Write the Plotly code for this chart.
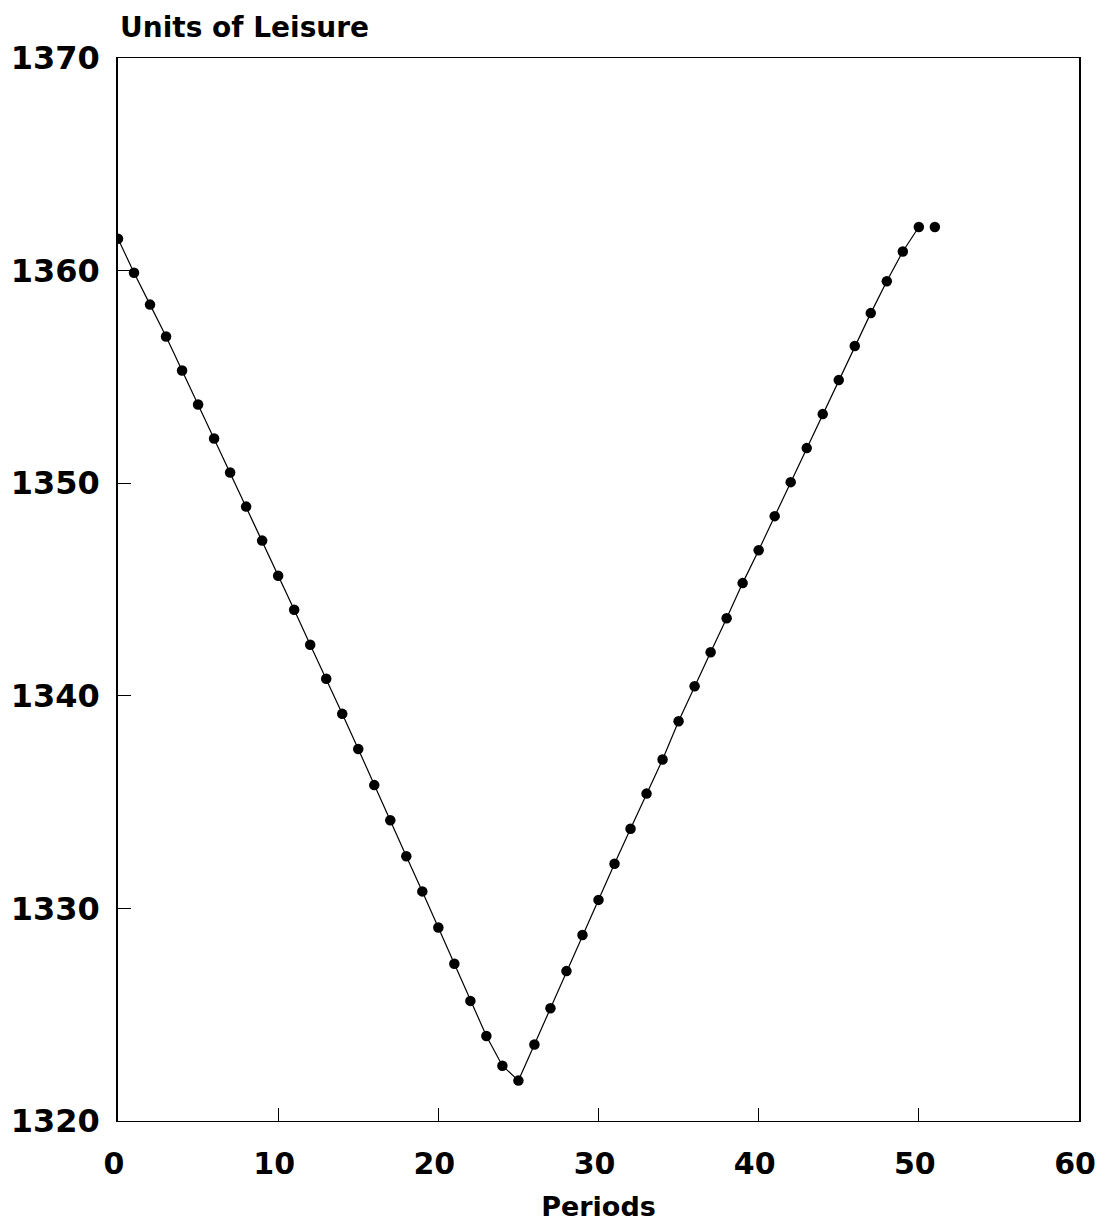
import plotly.graph_objects as go

periods = list(range(0, 52))
leisure = [
    1361.5, 1359.9, 1358.4, 1356.9, 1355.3, 1353.7, 1352.1, 1350.5, 1348.9, 1347.3,
    1345.65, 1344.05, 1342.4, 1340.8, 1339.15, 1337.5, 1335.8, 1334.15, 1332.45, 1330.8,
    1329.1, 1327.4, 1325.65, 1324.0, 1322.6, 1321.9, 1323.6, 1325.3, 1327.05, 1328.75,
    1330.4, 1332.1, 1333.75, 1335.4, 1337.0, 1338.8, 1340.45, 1342.05, 1343.65, 1345.3,
    1346.85, 1348.45, 1350.05, 1351.65, 1353.25, 1354.85, 1356.45, 1358.0, 1359.5, 1360.9,
    1362.05, 1362.05,
]
x_ticks = [0, 10, 20, 30, 40, 50, 60]
y_ticks = [1320, 1330, 1340, 1350, 1360, 1370]

fig = go.Figure()
fig.add_trace(go.Scatter(
    x=periods[:51], y=leisure[:51], mode="lines+markers",
    line=dict(color="black", width=1.2),
    marker=dict(symbol="circle", size=10.5, color="black"),
    showlegend=False,
))
fig.add_trace(go.Scatter(
    x=periods[51:], y=leisure[51:], mode="markers",
    marker=dict(symbol="circle", size=10.5, color="black"),
    showlegend=False,
))

font_family = "DejaVu Sans, Liberation Sans, sans-serif"
fig.update_layout(
    width=1090, height=1214,
    margin=dict(l=110, r=19, t=50, b=101),
    plot_bgcolor="white", paper_bgcolor="white",
    font=dict(family=font_family, color="black"),
    annotations=[dict(
        text="Units of Leisure", x=0, y=1, xref="paper", yref="paper",
        xanchor="left", yanchor="bottom", yshift=12, xshift=0, showarrow=False,
        font=dict(size=28, family=font_family, weight="bold", color="black"),
    )],
)
fig.update_xaxes(
    range=[0, 60], tickvals=x_ticks, ticks="inside", ticklen=13, tickwidth=1,
    tickcolor="black", showline=True, linecolor="black", linewidth=1, mirror=True,
    showgrid=False, zeroline=False, automargin=False, ticklabeloverflow="allow",
    tickfont=dict(size=30, family=font_family, weight="bold", color="black"),
    ticklabelstandoff=16, ticklabelshift=-4,
    title=dict(text="Periods", standoff=20,
               font=dict(size=27, family=font_family, weight="bold", color="black")),
)
fig.update_yaxes(
    range=[1320, 1370], tickvals=y_ticks, ticks="inside", ticklen=13, tickwidth=1,
    tickcolor="black", showline=True, linecolor="black", linewidth=1.5, mirror=True,
    showgrid=False, zeroline=False, automargin=False,
    tickfont=dict(size=32, family=font_family, weight="bold", color="black"),
    ticklabelstandoff=10,
)

fig.write_html("out.html")
